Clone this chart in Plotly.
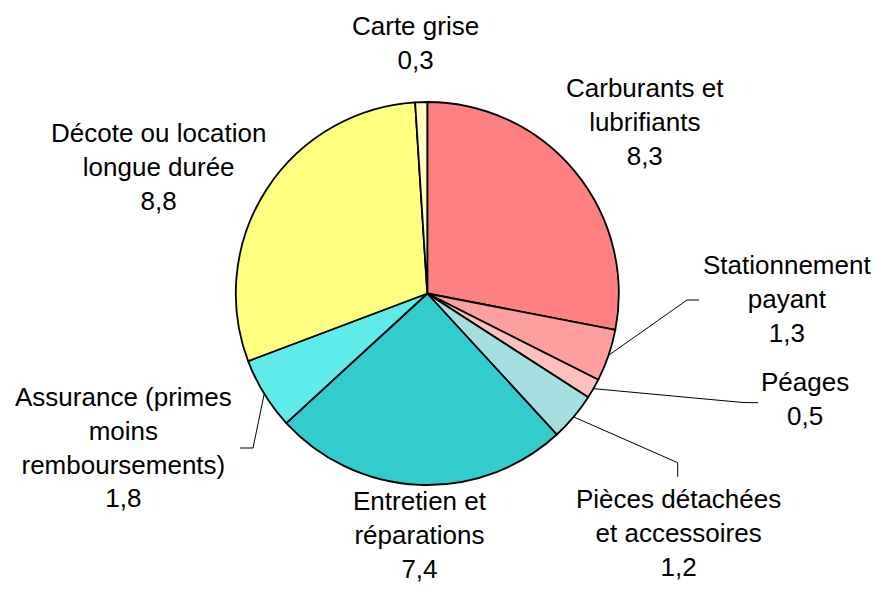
import math
import plotly.graph_objects as go

# ---- data ----
categories = [
    "Carburants et<br>lubrifiants",
    "Stationnement<br>payant",
    "Péages",
    "Pièces détachées<br>et accessoires",
    "Entretien et<br>réparations",
    "Assurance (primes<br>moins<br>remboursements)",
    "Décote ou location<br>longue durée",
    "Carte grise",
]
values = [8.3, 1.3, 0.5, 1.2, 7.4, 1.8, 8.8, 0.3]
colors = ["#FF8080", "#FF9F9F", "#FFC0C0", "#A3DFDF", "#33CCCC", "#60EBEB", "#FFFF80", "#FFFFC0"]

# ---- layout constants (page pixels) ----
OFF = 8                      # default page body margin
W, H = 881 - 2 * OFF, 595 - 2 * OFF
CX, CY, R = 427.3, 293.5, 191.5
FONT = dict(family="Liberation Sans, Arial, sans-serif", size=26, color="black")

# label block centres (page px)
label_pos = [
    (645, 122), (787, 299), (805, 399), (678, 533),
    (420, 535), (124, 447), (158, 167), (415, 43),
]
# leader lines: elbow and end points (page px), None if no leader
leaders = [
    None, [(687, 300), (699, 300)], [(743, 402.5), (758, 402.7)],
    [(677.7, 462.7), (677.7, 476.7)], None, [(253, 448), (240, 448)], None, None,
]


def px_to_paper(x, y):
    return (x - OFF) / W, 1 - (y - OFF) / H


x0, y1 = px_to_paper(CX - R, CY - R)
x1, y0 = px_to_paper(CX + R, CY + R)

fig = go.Figure(go.Pie(
    labels=[c.replace("<br>", " ") for c in categories],
    values=values,
    sort=False,
    direction="clockwise",
    rotation=0,
    textinfo="none",
    hoverinfo="label+value",
    marker=dict(colors=colors, line=dict(color="black", width=1.8)),
    domain=dict(x=[x0, x1], y=[y0, y1]),
    showlegend=False,
))

total = sum(values)
annotations = []
shapes = []
cum = 0.0
for cat, v, (lx, ly), ld in zip(categories, values, label_pos, leaders):
    mid = (cum + v / 2) / total * 2 * math.pi
    cum += v
    txt = f"{cat}<br>{v:.1f}".replace(".", ",")
    ax, ay = px_to_paper(lx, ly)
    annotations.append(dict(
        x=ax, y=ay, xref="paper", yref="paper", text=txt, showarrow=False,
        xanchor="center", yanchor="middle", align="center", font=FONT,
    ))
    if ld:
        sx = CX + R * math.sin(mid)
        sy = CY - R * math.cos(mid)
        pts = [(sx, sy)] + ld
        path = ""
        for i, (px, py) in enumerate(pts):
            qx, qy = px_to_paper(px, py)
            path += ("M" if i == 0 else "L") + f"{qx},{qy} "
        shapes.append(dict(type="path", path=path.strip(), xref="paper", yref="paper",
                           line=dict(color="black", width=1)))

fig.update_layout(
    width=W, height=H,
    margin=dict(l=0, r=0, t=0, b=0),
    paper_bgcolor="white", plot_bgcolor="white",
    annotations=annotations, shapes=shapes,
)

fig.write_html("out.html")
